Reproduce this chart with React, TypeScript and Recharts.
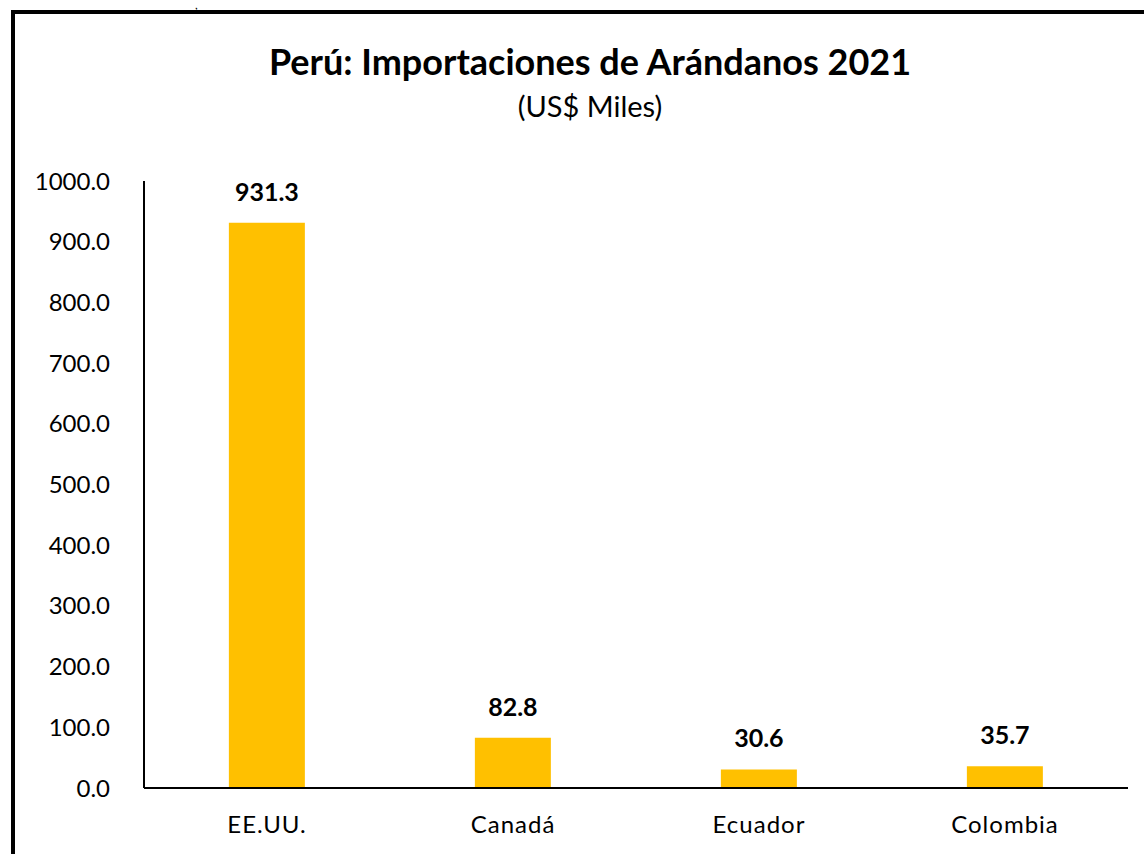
import React from 'react';
import { BarChart, Bar, XAxis, YAxis, LabelList } from 'recharts';

const countries = ['EE.UU.', 'Canadá', 'Ecuador', 'Colombia'];
const importValues = [931.3, 82.8, 30.6, 35.7];
const yTicks = [0, 100, 200, 300, 400, 500, 600, 700, 800, 900, 1000];

const data = countries.map((name, i) => ({ name, value: importValues[i] }));

const font = 'Lato, "Open Sans", "Noto Sans", sans-serif';

export default function App() {
  return (
    <div
      style={{
        position: 'fixed',
        left: 0,
        top: 0,
        width: 1144,
        height: 854,
        overflow: 'hidden',
        background: '#fff',
        fontFamily: font,
      }}
    >
      {/* stray text fragment above the frame */}
      <div style={{ position: 'absolute', left: 195, top: 0, fontSize: 12, lineHeight: '9px', height: 9, color: '#000' }}>,</div>
      {/* chart frame, runs off the right and bottom */}
      <div
        style={{
          position: 'absolute',
          left: 11,
          top: 10,
          width: 1200,
          height: 900,
          border: '4px solid #000',
          boxSizing: 'border-box',
        }}
      />
      <div
        style={{
          position: 'absolute',
          left: 0,
          width: 1180,
          top: 39,
          textAlign: 'center',
          fontSize: 36,
          lineHeight: '44px',
          fontWeight: 700,
          color: '#000',
        }}
      >
        Perú: Importaciones de Arándanos 2021
      </div>
      <div
        style={{
          position: 'absolute',
          left: 0,
          width: 1180,
          top: 89,
          textAlign: 'center',
          fontSize: 29,
          lineHeight: '34px',
          color: '#000',
        }}
      >
        (US$ Miles)
      </div>
      <div style={{ position: 'absolute', left: 0, top: 0 }}>
        <BarChart
          width={1144}
          height={854}
          data={data}
          margin={{ top: 181, right: 16, bottom: 0, left: 0 }}
          barCategoryGap="34.5%"
        >
          <XAxis
            dataKey="name"
            axisLine={{ stroke: '#000', strokeWidth: 2 }}
            tickLine={false}
            tick={{ fill: '#000', fontSize: 24, fontFamily: font, letterSpacing: 1 }}
            tickMargin={22}
            height={66}
          />
          <YAxis
            width={144}
            domain={[0, 1000]}
            ticks={yTicks}
            tickFormatter={(v: number) => v.toFixed(1)}
            axisLine={{ stroke: '#000', strokeWidth: 2 }}
            tickLine={false}
            tick={{ fill: '#000', fontSize: 24, fontFamily: font }}
            tickMargin={28}
            interval={0}
          />
          <Bar dataKey="value" fill="#FFC000" isAnimationActive={false}>
            <LabelList
              dataKey="value"
              position="top"
              offset={22}
              formatter={(v: number) => v.toFixed(1)}
              style={{ fill: '#000', fontSize: 25, fontWeight: 700, fontFamily: font }}
            />
          </Bar>
        </BarChart>
      </div>
    </div>
  );
}
